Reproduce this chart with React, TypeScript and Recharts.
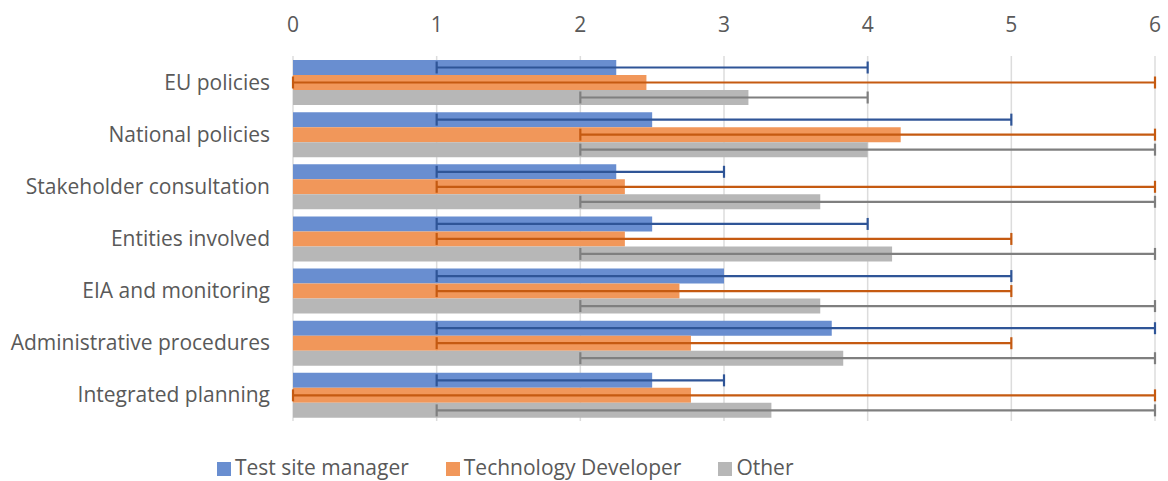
import { Bar, BarChart, CartesianGrid, ErrorBar, Legend, XAxis, YAxis } from 'recharts';

const categories = [
  'EU policies',
  'National policies',
  'Stakeholder consultation',
  'Entities involved',
  'EIA and monitoring',
  'Administrative procedures',
  'Integrated planning',
];

const seriesNames = ['Test site manager', 'Technology Developer', 'Other'];

// mean score per group, plus min / max for the range bars
const siteManager = [2.25, 2.5, 2.25, 2.5, 3.0, 3.75, 2.5];
const siteManagerMin = [1, 1, 1, 1, 1, 1, 1];
const siteManagerMax = [4, 5, 3, 4, 5, 6, 3];

const techDeveloper = [2.46, 4.23, 2.31, 2.31, 2.69, 2.77, 2.77];
const techDeveloperMin = [0, 2, 1, 1, 1, 1, 0];
const techDeveloperMax = [6, 6, 6, 5, 5, 5, 6];

const other = [3.17, 4.0, 3.67, 4.17, 3.67, 3.83, 3.33];
const otherMin = [2, 2, 2, 2, 2, 2, 1];
const otherMax = [4, 6, 6, 6, 6, 6, 6];

const xTicks = [0, 1, 2, 3, 4, 5, 6];

const data = categories.map((name, i) => ({
  name,
  tsm: siteManager[i],
  tsmErr: [siteManager[i] - siteManagerMin[i], siteManagerMax[i] - siteManager[i]],
  td: techDeveloper[i],
  tdErr: [techDeveloper[i] - techDeveloperMin[i], techDeveloperMax[i] - techDeveloper[i]],
  oth: other[i],
  othErr: [other[i] - otherMin[i], otherMax[i] - other[i]],
}));

const font = '"Open Sans", sans-serif';
const textColor = '#595959';

export default function App() {
  return (
    <div style={{ position: 'absolute', left: 0, top: 0, fontFamily: font }}>
      <BarChart
        width={1168}
        height={481}
        data={data}
        layout="vertical"
        margin={{ top: 0, right: 13, bottom: 60, left: 0 }}
        barCategoryGap={4}
        barGap={0}
      >
        <CartesianGrid horizontal={false} stroke="#dcdcdc" strokeWidth={1.5} />
        <XAxis
          type="number"
          orientation="top"
          domain={[0, 6]}
          ticks={xTicks}
          height={56}
          axisLine={false}
          tickLine={false}
          tickSize={0}
          tickMargin={24}
          tick={{ fill: textColor, fontSize: 21, fontFamily: font }}
        />
        <YAxis
          type="category"
          dataKey="name"
          width={293}
          axisLine={false}
          tickLine={false}
          tickSize={0}
          tickMargin={23}
          tick={{ fill: textColor, fontSize: 21, fontFamily: font }}
        />
        <Legend
          verticalAlign="middle"
          align="center"
          iconType="square"
          iconSize={14}
          itemSorter={(item) => seriesNames.indexOf(String(item.value))}
          wrapperStyle={{ top: 453, left: 217, width: 'auto', fontSize: 21, fontFamily: font, textAlign: 'left' }}
          formatter={(value) => <span style={{ color: textColor, marginRight: 27 }}>{value}</span>}
        />
        <Bar dataKey="tsm" name={seriesNames[0]} fill="#698ed0" isAnimationActive={false}>
          <ErrorBar dataKey="tsmErr" direction="x" width={6} stroke="#2f5597" strokeWidth={2.2} isAnimationActive={false} />
        </Bar>
        <Bar dataKey="td" name={seriesNames[1]} fill="#f1975a" isAnimationActive={false}>
          <ErrorBar dataKey="tdErr" direction="x" width={6} stroke="#c55a11" strokeWidth={2.2} isAnimationActive={false} />
        </Bar>
        <Bar dataKey="oth" name={seriesNames[2]} fill="#b7b7b7" isAnimationActive={false}>
          <ErrorBar dataKey="othErr" direction="x" width={6} stroke="#7f7f7f" strokeWidth={2.2} isAnimationActive={false} />
        </Bar>
      </BarChart>
    </div>
  );
}
